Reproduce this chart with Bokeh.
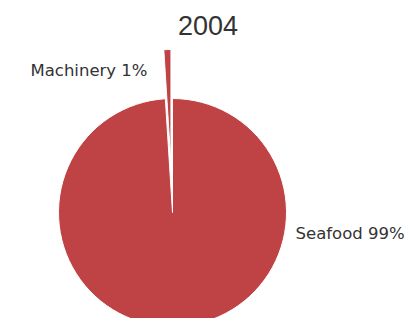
import math
from bokeh.plotting import figure
from bokeh.models import Range1d, ColumnDataSource
from bokeh.core.properties import value
from bokeh.embed import file_html
from bokeh.resources import INLINE

# data
categories = ["Machinery", "Seafood"]
shares = [1, 99]
year_title = "2004"
slice_color = "#BF4245"

W, H = 405, 318
p = figure(width=W, height=H, output_backend="svg", toolbar_location=None,
           x_range=Range1d(0, W), y_range=Range1d(0, H),
           min_border=0, outline_line_color=None)
p.axis.visible = False
p.grid.visible = False
p.background_fill_color = "white"
p.border_fill_color = "white"

# layout (pixel-like units)
cx, cy, r = 172, 106, 114
explode = [49, 0]

total = float(sum(shares))
start = math.pi / 2
xs, ys, sa, ea = [], [], [], []
for s, ex in zip(shares, explode):
    a = 2 * math.pi * s / total
    mid = start + a / 2
    xs.append(cx + ex * math.cos(mid))
    ys.append(cy + ex * math.sin(mid))
    sa.append(start)
    ea.append(start + a)
    start += a

src = ColumnDataSource(dict(x=xs, y=ys, sa=sa, ea=ea, cat=categories))
p.wedge(x="x", y="y", radius=r, start_angle="sa", end_angle="ea", source=src,
        fill_color=slice_color, line_color="white", line_width=1)

labels = [f"{c} {s}%" for c, s in zip(categories, shares)]
p.text(x=[cx - 25], y=[cy + r + 28], text=[labels[0]], text_align="right",
       text_baseline="middle", text_font=value("DejaVu Sans"),
       text_font_size="16.5px", text_color="#333333")
p.text(x=[cx + r + 9], y=[cy - 21], text=[labels[1]], text_align="left",
       text_baseline="middle", text_font=value("DejaVu Sans"),
       text_font_size="16.5px", text_color="#333333")

p.text(x=[207.5], y=[H - 24.5], text=[year_title], text_align="center",
       text_baseline="middle", text_font=value("Liberation Sans"),
       text_font_size="27px", text_color="#333333")

open("out.html", "w").write(file_html(p, INLINE))
